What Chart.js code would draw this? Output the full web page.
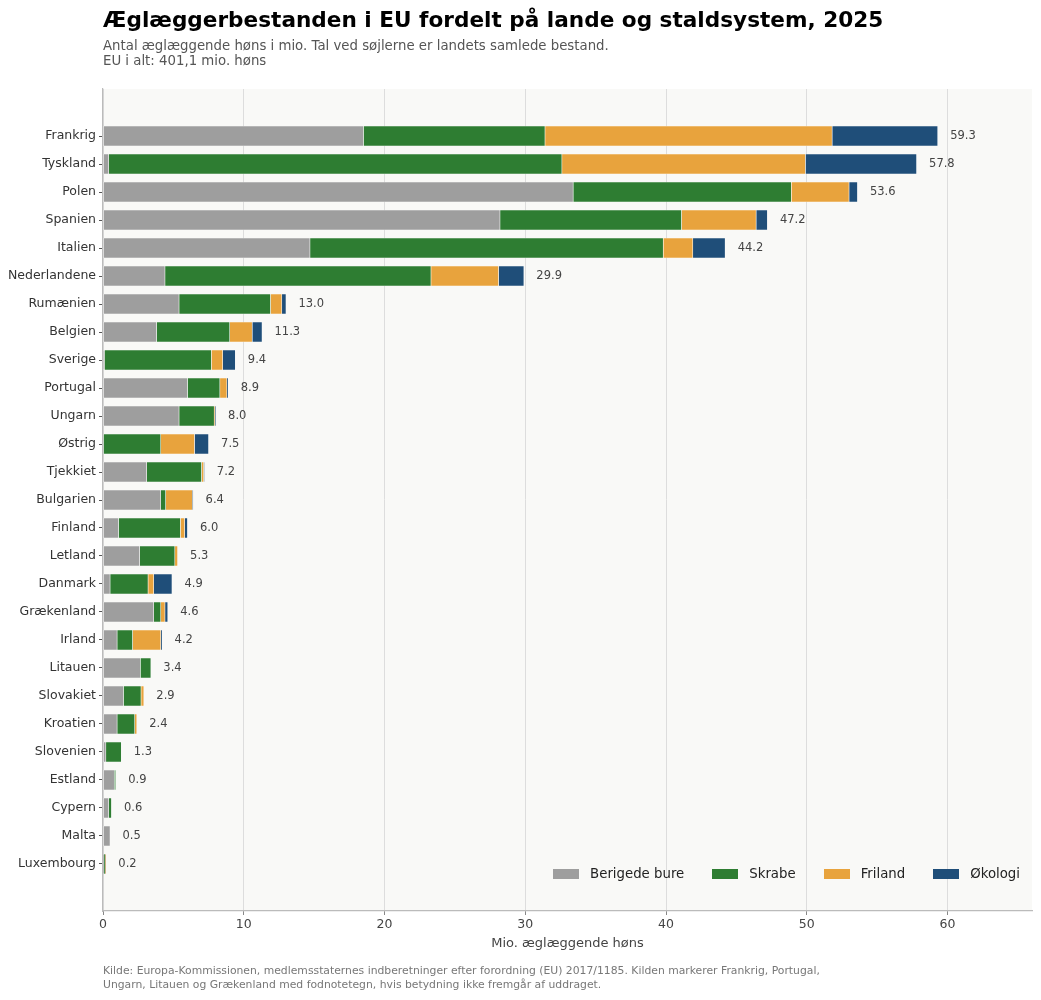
<!DOCTYPE html>
<html lang="da">
<head>
<meta charset="utf-8">
<script src="https://cdn.jsdelivr.net/npm/chart.js@4/dist/chart.umd.min.js"></script>
<style>
  html, body { margin: 0; padding: 0; background: #fff; }
  body { font-family: "DejaVu Sans", sans-serif; }
  #wrap { position: relative; width: 1041px; height: 1000px; }
  #chart { position: absolute; left: 0; top: 0; }
  .title { position: absolute; left: 103px; top: 7px; font-size: 21.6px; font-weight: bold; color: #000; white-space: nowrap; }
  .sub { position: absolute; left: 103px; top: 38px; font-size: 13.3px; line-height: 15px; color: #555; }
  .foot { position: absolute; left: 103px; top: 964px; font-size: 10.8px; line-height: 14px; color: #777; }
  #legend { position: absolute; right: 21px; top: 866px; display: flex; gap: 28px; font-size: 13.3px; color: #222; }
  #legend .item { display: flex; align-items: center; gap: 11px; }
  #legend .box { width: 26px; height: 10px; }
</style>
</head>
<body>
<div id="wrap">
  <canvas id="chart" width="1041" height="1000"></canvas>
  <div class="title">Æglæggerbestanden i EU fordelt på lande og staldsystem, 2025</div>
  <div class="sub">Antal æglæggende høns i mio. Tal ved søjlerne er landets samlede bestand.<br>EU i alt: 401,1 mio. høns</div>
  <div id="legend"></div>
  <div class="foot">Kilde: Europa-Kommissionen, medlemsstaternes indberetninger efter forordning (EU) 2017/1185. Kilden markerer Frankrig, Portugal,<br>Ungarn, Litauen og Grækenland med fodnotetegn, hvis betydning ikke fremgår af uddraget.</div>
</div>
<script>
// lande, sorteret efter samlet bestand
const countries = ['Frankrig', 'Tyskland', 'Polen', 'Spanien', 'Italien', 'Nederlandene', 'Rumænien',
  'Belgien', 'Sverige', 'Portugal', 'Ungarn', 'Østrig', 'Tjekkiet', 'Bulgarien', 'Finland', 'Letland',
  'Danmark', 'Grækenland', 'Irland', 'Litauen', 'Slovakiet', 'Kroatien', 'Slovenien', 'Estland',
  'Cypern', 'Malta', 'Luxembourg'];

// mio. høns pr. staldsystem (aflæst)
const berigede = [18.5, 0.4, 33.4, 28.2, 14.7, 4.4, 5.4, 3.8, 0.1, 6.0, 5.4, 0.0, 3.1, 4.1, 1.1, 2.6,
  0.5, 3.6, 1.0, 2.65, 1.45, 1.0, 0.2, 0.8, 0.4, 0.5, 0.05];
const skrabe = [12.9, 32.2, 15.5, 12.9, 25.1, 18.9, 6.5, 5.2, 7.6, 2.3, 2.5, 4.1, 3.9, 0.35, 4.4, 2.5,
  2.7, 0.5, 1.1, 0.75, 1.25, 1.25, 1.1, 0.1, 0.2, 0.0, 0.1];
const friland = [20.4, 17.3, 4.1, 5.3, 2.1, 4.8, 0.8, 1.6, 0.8, 0.5, 0.05, 2.4, 0.15, 1.9, 0.3, 0.2,
  0.4, 0.3, 2.0, 0.0, 0.2, 0.15, 0.0, 0.0, 0.0, 0.0, 0.03];
const okologi = [7.5, 7.9, 0.6, 0.8, 2.3, 1.8, 0.3, 0.7, 0.9, 0.1, 0.05, 1.0, 0.05, 0.05, 0.2, 0.0,
  1.3, 0.2, 0.1, 0.0, 0.0, 0.0, 0.0, 0.0, 0.0, 0.0, 0.02];
// landets samlede bestand (tal ved søjlerne)
const totals = [59.3, 57.8, 53.6, 47.2, 44.2, 29.9, 13.0, 11.3, 9.4, 8.9, 8.0, 7.5, 7.2, 6.4, 6.0, 5.3,
  4.9, 4.6, 4.2, 3.4, 2.9, 2.4, 1.3, 0.9, 0.6, 0.5, 0.2];

const xTicks = [0, 10, 20, 30, 40, 50, 60];

const toPoints = arr => arr.map((v, i) => ({ x: v, y: i }));

const series = [
  { label: 'Berigede bure', data: berigede, color: '#9e9e9e' },
  { label: 'Skrabe', data: skrabe, color: '#2e7d32' },
  { label: 'Friland', data: friland, color: '#e8a33d' },
  { label: 'Økologi', data: okologi, color: '#1f4e79' }
];

// baggrund i plotområdet
const plotBg = {
  id: 'plotBg',
  beforeDraw(chart) {
    const { ctx, chartArea: a } = chart;
    ctx.save();
    ctx.fillStyle = '#f9f9f7';
    ctx.fillRect(a.left, a.top, a.right - a.left, a.bottom - a.top);
    ctx.restore();
  }
};

// tal ved søjlerne
const totalLabels = {
  id: 'totalLabels',
  afterDatasetsDraw(chart) {
    const { ctx, scales } = chart;
    ctx.save();
    ctx.font = '11.5px "DejaVu Sans"';
    ctx.fillStyle = '#444';
    ctx.textBaseline = 'middle';
    totals.forEach((t, i) => {
      ctx.fillText(t.toFixed(1), scales.x.getPixelForValue(t) + 12.5, scales.y.getPixelForValue(i));
    });
    ctx.restore();
  }
};

const ctx = document.getElementById('chart').getContext('2d');
const chart = new Chart(ctx, {
  type: 'bar',
  data: {
    datasets: series.map(s => ({
      label: s.label,
      data: toPoints(s.data),
      backgroundColor: s.color,
      borderColor: 'rgba(255,255,255,0.7)',
      borderWidth: 0.6,
      borderSkipped: false,
      barThickness: 20
    }))
  },
  options: {
    indexAxis: 'y',
    responsive: false,
    animation: false,
    layout: { padding: { top: 89, right: 9, bottom: 49, left: 0 } },
    plugins: {
      legend: { display: false },
      tooltip: { enabled: false }
    },
    scales: {
      x: {
        type: 'linear',
        stacked: true,
        bounds: 'data',
        min: 0,
        max: 66,
        afterBuildTicks: s => { s.ticks = xTicks.map(v => ({ value: v })); },
        afterFit: s => { s.height = 40; },
        ticks: { color: '#444', font: { family: 'DejaVu Sans', size: 12.5 }, padding: 2 },
        grid: { color: '#dddddd', lineWidth: 1, tickLength: 4, tickColor: '#888' },
        border: { color: '#bbbbbb', width: 1.2 },
        title: {
          display: true,
          text: 'Mio. æglæggende høns',
          color: '#444',
          font: { family: 'DejaVu Sans', size: 13 },
          padding: { top: 0, bottom: 0 }
        }
      },
      y: {
        type: 'linear',
        stacked: true,
        reverse: true,
        bounds: 'data',
        offset: false,
        min: -1.68,
        max: countries.length - 1 + 1.68,
        afterBuildTicks: s => { s.ticks = countries.map((c, i) => ({ value: i })); },
        afterFit: s => { s.width = 103; },
        ticks: {
          color: '#333',
          font: { family: 'DejaVu Sans', size: 12.5 },
          padding: 3,
          autoSkip: false,
          callback: v => countries[v]
        },
        grid: { offset: false, drawOnChartArea: false, tickLength: 4, tickColor: '#555' },
        border: { color: '#bbbbbb', width: 1.2 }
      }
    }
  },
  plugins: [plotBg, totalLabels]
});

// forklaring inde i plottet, bygget ud fra datasættene
const legendEl = document.getElementById('legend');
chart.data.datasets.forEach(ds => {
  const item = document.createElement('div');
  item.className = 'item';
  const box = document.createElement('span');
  box.className = 'box';
  box.style.background = ds.backgroundColor;
  const txt = document.createElement('span');
  txt.textContent = ds.label;
  item.appendChild(box);
  item.appendChild(txt);
  legendEl.appendChild(item);
});
</script>
</body>
</html>
